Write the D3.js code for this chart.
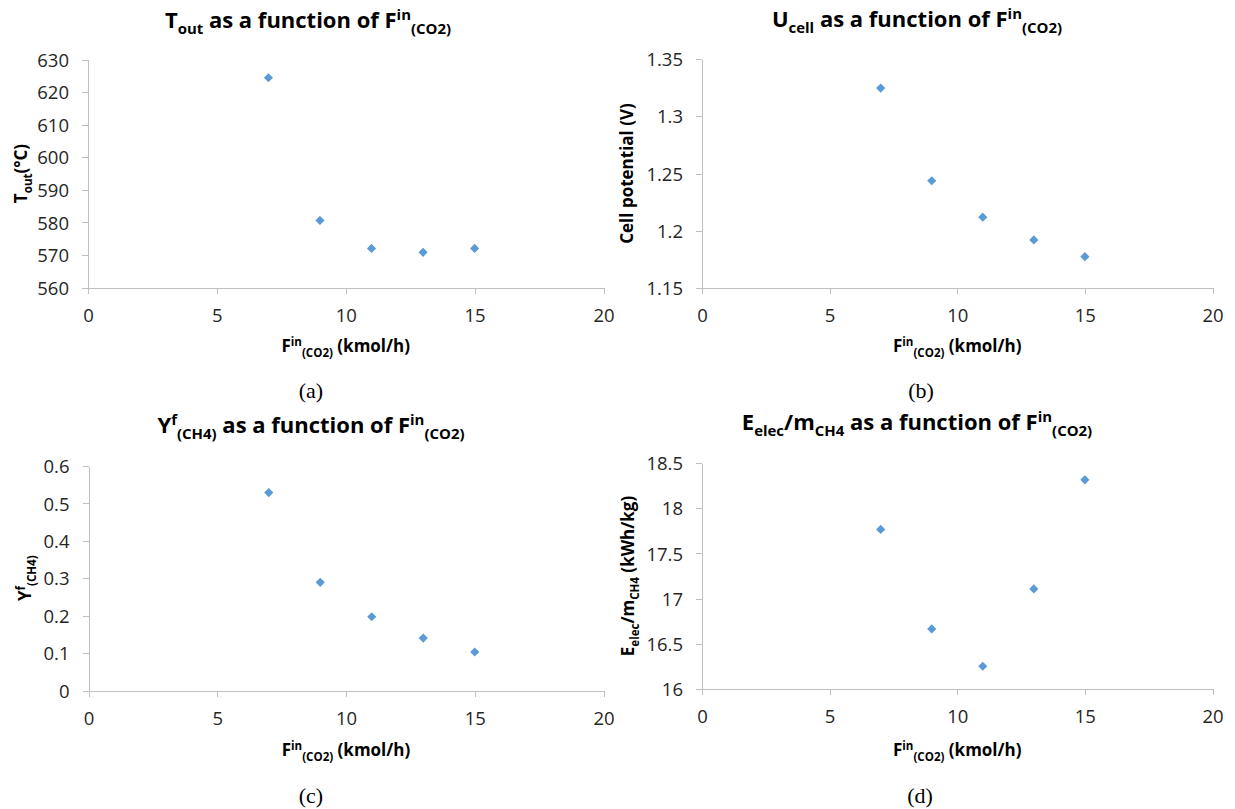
<!DOCTYPE html>
<html>
<head>
<meta charset="utf-8">
<script src="https://cdn.jsdelivr.net/npm/d3@7"></script>
<style>
  html, body { margin: 0; padding: 0; background: #ffffff; }
  svg { display: block; }
</style>
</head>
<body>
<svg id="chart" width="1235" height="809"></svg>
<script>
// ---------- data ----------
const flowCO2 = [7, 9, 11, 13, 15];               // F_in(CO2), kmol/h
const tOut    = [624.4, 580.6, 572.0, 570.8, 572.0]; // °C
const uCell   = [1.3246, 1.2437, 1.2119, 1.1920, 1.1774]; // V
const yCH4    = [0.529, 0.289, 0.197, 0.140, 0.103];
const eElec   = [17.765, 16.665, 16.252, 17.107, 18.314]; // kWh/kg

const xTicks = [0, 5, 10, 15, 20];
const tTicks = [560, 570, 580, 590, 600, 610, 620, 630];
const uTicks = [1.15, 1.2, 1.25, 1.3, 1.35];
const yTicks = [0, 0.1, 0.2, 0.3, 0.4, 0.5, 0.6];
const eTicks = [16, 16.5, 17, 17.5, 18, 18.5];

const xTickLabels = ["0", "5", "10", "15", "20"];
const tTickLabels = ["560", "570", "580", "590", "600", "610", "620", "630"];
const uTickLabels = ["1.15", "1.2", "1.25", "1.3", "1.35"];
const yTickLabels = ["0", "0.1", "0.2", "0.3", "0.4", "0.5", "0.6"];
const eTickLabels = ["16", "16.5", "17", "17.5", "18", "18.5"];

const FUNC = " as a function of F";
const titleA = [["T"], ["out", "sub"], [FUNC], ["in", "sup"], ["(CO2)", "sub"]];
const titleB = [["U"], ["cell", "sub"], [FUNC], ["in", "sup"], ["(CO2)", "sub"]];
const titleC = [["Y"], ["f", "sup"], ["(CH4)", "sub"], [FUNC], ["in", "sup"], ["(CO2)", "sub"]];
const titleD = [["E"], ["elec", "sub"], ["/m"], ["CH4", "sub"], [FUNC], ["in", "sup"], ["(CO2)", "sub"]];
const xLabel = [["F"], ["in", "sup"], ["(CO2)", "sub"], [" (kmol/h)"]];
const yLabelA = [["T"], ["out", "sub"], ["(°C)"]];
const yLabelB = [["Cell potential (V)"]];
const yLabelC = [["Y"], ["f", "sup"], ["(CH4)", "sub"]];
const yLabelD = [["E"], ["elec", "sub"], ["/m"], ["CH4", "sub"], [" (kWh/kg)"]];
const captions = ["(a)", "(b)", "(c)", "(d)"];

// ---------- style ----------
const SANS = "'Open Sans', 'Liberation Sans', sans-serif";
const SERIF = "'Liberation Serif', 'Times New Roman', serif";
const AXIS_COLOR = "#bfbfbf";
const TICK_TEXT = "#262626";
const MARK = "#5b9bd5";

const svg = d3.select("#chart");

function richText(g, segs, size, opts) {
  const t = g.append("text")
    .attr("font-family", SANS)
    .attr("font-weight", opts.weight || "bold")
    .attr("font-size", size)
    .attr("fill", opts.fill || "#000")
    .attr("text-anchor", "middle")
    .attr("transform", `translate(${opts.x},${opts.y})` + (opts.rotate ? ` rotate(${opts.rotate})` : ""));
  let cur = 0;
  segs.forEach(([txt, kind]) => {
    let off = 0, fs = size;
    if (kind === "sub") { off = 0.28 * size; fs = 0.68 * size; }
    if (kind === "sup") { off = -0.36 * size; fs = 0.68 * size; }
    t.append("tspan")
      .attr("dy", off - cur)
      .attr("font-size", fs)
      .style("white-space", "pre")
      .text(txt);
    cur = off;
  });
  t.attr("xml:space", "preserve");
  return t;
}

function panel(cfg) {
  const g = svg.append("g");
  const x = d3.scaleLinear().domain([0, 20]).range([cfg.left, cfg.right]);
  const y = d3.scaleLinear().domain([cfg.yTicks[0], cfg.yTicks[cfg.yTicks.length - 1]]).range([cfg.bottom, cfg.top]);

  const yAxis = d3.axisLeft(y).tickValues(cfg.yTicks)
    .tickFormat((d, i) => cfg.yTickLabels[i])
    .tickSize(6).tickSizeOuter(0).tickPadding(13);
  const xAxis = d3.axisBottom(x).tickValues(xTicks)
    .tickFormat((d, i) => xTickLabels[i])
    .tickSize(6).tickSizeOuter(0).tickPadding(13);

  const ga = g.append("g").attr("transform", `translate(${cfg.left},0)`).call(yAxis);
  const gb = g.append("g").attr("transform", `translate(0,${cfg.bottom})`).call(xAxis);
  [ga, gb].forEach(a => {
    a.selectAll("path, line").attr("stroke", AXIS_COLOR).attr("shape-rendering", "crispEdges");
    a.selectAll("text").attr("font-family", SANS).attr("font-size", 18.5).attr("fill", TICK_TEXT);
  });
  gb.selectAll("text").attr("y", 34).attr("dy", 0);
  ga.selectAll("text").attr("dy", "0.36em");

  const sym = d3.symbol().type(d3.symbolSquare).size(42);
  g.append("g").selectAll("path")
    .data(flowCO2.map((f, i) => [f, cfg.values[i]]))
    .join("path")
    .attr("d", sym)
    .attr("fill", MARK)
    .attr("transform", d => `translate(${x(d[0])},${y(d[1])}) rotate(45)`);

  richText(g, cfg.title, 22, { x: cfg.titleX, y: cfg.titleY });
  richText(g, xLabel, 17, { x: (cfg.left + cfg.right) / 2, y: cfg.xLabelY });
  richText(g, cfg.yLabel, 17, { x: cfg.yLabelX, y: (cfg.top + cfg.bottom) / 2, rotate: -90 });

  g.append("text")
    .attr("font-family", SERIF)
    .attr("font-size", 22)
    .attr("fill", "#000")
    .attr("text-anchor", "middle")
    .attr("x", cfg.capX).attr("y", cfg.capY)
    .text(cfg.caption);
}

panel({ values: tOut, yTicks: tTicks, yTickLabels: tTickLabels, title: titleA, yLabel: yLabelA, caption: captions[0],
  left: 88, right: 603.5, top: 59.5, bottom: 287.5,
  titleX: 308, titleY: 28, xLabelY: 352, yLabelX: 27, capX: 311, capY: 398 });
panel({ values: uCell, yTicks: uTicks, yTickLabels: uTickLabels, title: titleB, yLabel: yLabelB, caption: captions[1],
  left: 702, right: 1212.5, top: 59, bottom: 288,
  titleX: 917, titleY: 27, xLabelY: 352, yLabelX: 633, capX: 921, capY: 398 });
panel({ values: yCH4, yTicks: yTicks, yTickLabels: yTickLabels, title: titleC, yLabel: yLabelC, caption: captions[2],
  left: 88.5, right: 603.5, top: 466, bottom: 690.5,
  titleX: 311, titleY: 433, xLabelY: 756, yLabelX: 31, capX: 311, capY: 803 });
panel({ values: eElec, yTicks: eTicks, yTickLabels: eTickLabels, title: titleD, yLabel: yLabelD, caption: captions[3],
  left: 702, right: 1212.5, top: 463, bottom: 689,
  titleX: 917, titleY: 430, xLabelY: 756, yLabelX: 634, capX: 920, capY: 803 });
</script>
</body>
</html>
